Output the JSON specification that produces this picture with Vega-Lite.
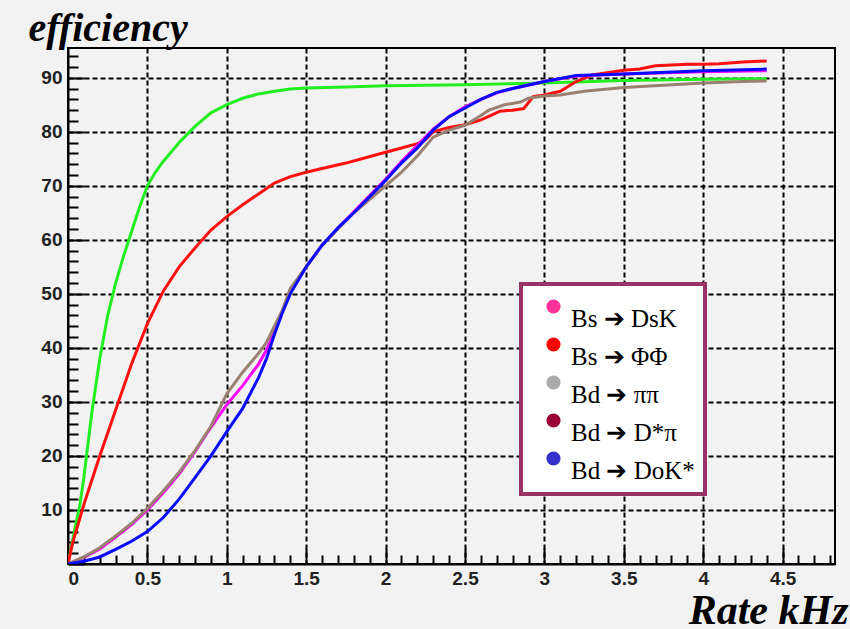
{
  "$schema": "https://vega.github.io/schema/vega-lite/v6.json",
  "width": 767,
  "height": 516,
  "autosize": {"type": "none"},
  "padding": {"left": 68, "top": 48, "right": 15, "bottom": 65},
  "background": "#f2f2f2",
  "config": {
    "view": {"stroke": "black", "strokeWidth": 2, "fill": "#f2f2f2"},
    "axis": {
      "domainColor": "black",
      "domainWidth": 2,
      "tickColor": "black",
      "tickWidth": 2,
      "gridColor": "black",
      "gridWidth": 2,
      "gridDash": [5, 3],
      "labelFont": "Liberation Sans",
      "labelFontWeight": "bold",
      "labelFontSize": 19,
      "labelColor": "#222222",
      "labelOverlap": false,
      "tickCount": 500,
      "titleFont": "Liberation Serif",
      "titleFontStyle": "italic",
      "titleFontWeight": "bold",
      "titleColor": "black"
    }
  },
  "layer": [
    {
      "data": {
        "values": [
          {"x": 0, "y": 0, "c": "A"}, {"x": 0.02, "y": 3, "c": "A"}, {"x": 0.05, "y": 7.5, "c": "A"}, {"x": 0.075, "y": 11, "c": "A"}, {"x": 0.1, "y": 16, "c": "A"}, {"x": 0.15, "y": 28, "c": "A"}, {"x": 0.2, "y": 38, "c": "A"}, {"x": 0.25, "y": 46, "c": "A"}, {"x": 0.3, "y": 52, "c": "A"}, {"x": 0.35, "y": 57, "c": "A"}, {"x": 0.4, "y": 61.5, "c": "A"}, {"x": 0.45, "y": 66, "c": "A"}, {"x": 0.5, "y": 70, "c": "A"}, {"x": 0.55, "y": 72.5, "c": "A"}, {"x": 0.6, "y": 74.5, "c": "A"}, {"x": 0.7, "y": 78, "c": "A"}, {"x": 0.8, "y": 81, "c": "A"}, {"x": 0.9, "y": 83.5, "c": "A"}, {"x": 1.0, "y": 85, "c": "A"}, {"x": 1.1, "y": 86.2, "c": "A"}, {"x": 1.2, "y": 87, "c": "A"}, {"x": 1.3, "y": 87.5, "c": "A"}, {"x": 1.4, "y": 87.9, "c": "A"}, {"x": 1.5, "y": 88.1, "c": "A"}, {"x": 1.75, "y": 88.3, "c": "A"}, {"x": 2.0, "y": 88.5, "c": "A"}, {"x": 2.5, "y": 88.7, "c": "A"}, {"x": 3.0, "y": 89, "c": "A"}, {"x": 3.5, "y": 89.5, "c": "A"}, {"x": 4.0, "y": 89.7, "c": "A"}, {"x": 4.4, "y": 89.8, "c": "A"},

          {"x": 0, "y": 0, "c": "B"}, {"x": 0.03, "y": 4, "c": "B"}, {"x": 0.1, "y": 11, "c": "B"}, {"x": 0.2, "y": 20, "c": "B"}, {"x": 0.3, "y": 28.5, "c": "B"}, {"x": 0.4, "y": 37, "c": "B"}, {"x": 0.5, "y": 44.5, "c": "B"}, {"x": 0.6, "y": 50.5, "c": "B"}, {"x": 0.7, "y": 55, "c": "B"}, {"x": 0.8, "y": 58.5, "c": "B"}, {"x": 0.9, "y": 61.8, "c": "B"}, {"x": 1.0, "y": 64.3, "c": "B"}, {"x": 1.1, "y": 66.5, "c": "B"}, {"x": 1.2, "y": 68.5, "c": "B"}, {"x": 1.3, "y": 70.5, "c": "B"}, {"x": 1.4, "y": 71.7, "c": "B"}, {"x": 1.5, "y": 72.5, "c": "B"}, {"x": 1.6, "y": 73.2, "c": "B"}, {"x": 1.75, "y": 74.2, "c": "B"}, {"x": 1.85, "y": 75, "c": "B"}, {"x": 2.0, "y": 76.2, "c": "B"}, {"x": 2.1, "y": 77, "c": "B"}, {"x": 2.2, "y": 77.8, "c": "B"}, {"x": 2.25, "y": 78.5, "c": "B"}, {"x": 2.3, "y": 80, "c": "B"}, {"x": 2.4, "y": 80.8, "c": "B"}, {"x": 2.5, "y": 81.3, "c": "B"}, {"x": 2.6, "y": 82.2, "c": "B"}, {"x": 2.66, "y": 83, "c": "B"}, {"x": 2.72, "y": 83.8, "c": "B"}, {"x": 2.8, "y": 84, "c": "B"}, {"x": 2.87, "y": 84.3, "c": "B"}, {"x": 2.93, "y": 86.5, "c": "B"}, {"x": 3.0, "y": 86.8, "c": "B"}, {"x": 3.1, "y": 87.5, "c": "B"}, {"x": 3.2, "y": 89.3, "c": "B"}, {"x": 3.3, "y": 90.5, "c": "B"}, {"x": 3.5, "y": 91.4, "c": "B"}, {"x": 3.6, "y": 91.6, "c": "B"}, {"x": 3.7, "y": 92.2, "c": "B"}, {"x": 3.9, "y": 92.5, "c": "B"}, {"x": 4.0, "y": 92.5, "c": "B"}, {"x": 4.1, "y": 92.6, "c": "B"}, {"x": 4.25, "y": 92.9, "c": "B"}, {"x": 4.4, "y": 93.1, "c": "B"},

          {"x": 0, "y": 0, "c": "C"}, {"x": 0.1, "y": 1.2, "c": "C"}, {"x": 0.2, "y": 2.8, "c": "C"}, {"x": 0.3, "y": 5, "c": "C"}, {"x": 0.4, "y": 7.3, "c": "C"}, {"x": 0.5, "y": 10, "c": "C"}, {"x": 0.6, "y": 13.2, "c": "C"}, {"x": 0.7, "y": 16.7, "c": "C"}, {"x": 0.8, "y": 20.8, "c": "C"}, {"x": 0.9, "y": 25.3, "c": "C"}, {"x": 1.0, "y": 29.5, "c": "C"}, {"x": 1.1, "y": 33, "c": "C"}, {"x": 1.2, "y": 37, "c": "C"}, {"x": 1.25, "y": 39.6, "c": "C"}, {"x": 1.3, "y": 43, "c": "C"}, {"x": 1.35, "y": 46.8, "c": "C"}, {"x": 1.4, "y": 50.5, "c": "C"}, {"x": 1.5, "y": 55, "c": "C"}, {"x": 1.6, "y": 59, "c": "C"}, {"x": 1.7, "y": 62.2, "c": "C"}, {"x": 1.8, "y": 65.2, "c": "C"}, {"x": 1.9, "y": 68.2, "c": "C"}, {"x": 2.0, "y": 71.2, "c": "C"}, {"x": 2.1, "y": 74.5, "c": "C"}, {"x": 2.2, "y": 77.5, "c": "C"}, {"x": 2.3, "y": 80.5, "c": "C"}, {"x": 2.4, "y": 82.8, "c": "C"}, {"x": 2.5, "y": 84.6, "c": "C"}, {"x": 2.6, "y": 86, "c": "C"}, {"x": 2.7, "y": 87.2, "c": "C"}, {"x": 2.8, "y": 88, "c": "C"}, {"x": 3.0, "y": 89.3, "c": "C"}, {"x": 3.2, "y": 90.3, "c": "C"}, {"x": 3.5, "y": 90.7, "c": "C"}, {"x": 4.0, "y": 91.1, "c": "C"}, {"x": 4.4, "y": 91.3, "c": "C"},

          {"x": 0, "y": 0, "c": "D"}, {"x": 0.1, "y": 1.3, "c": "D"}, {"x": 0.2, "y": 3, "c": "D"}, {"x": 0.3, "y": 5.2, "c": "D"}, {"x": 0.4, "y": 7.5, "c": "D"}, {"x": 0.5, "y": 10.3, "c": "D"}, {"x": 0.6, "y": 13.5, "c": "D"}, {"x": 0.7, "y": 17, "c": "D"}, {"x": 0.8, "y": 21, "c": "D"}, {"x": 0.9, "y": 25.5, "c": "D"}, {"x": 1.0, "y": 31.5, "c": "D"}, {"x": 1.1, "y": 35.5, "c": "D"}, {"x": 1.2, "y": 39, "c": "D"}, {"x": 1.25, "y": 41, "c": "D"}, {"x": 1.3, "y": 44, "c": "D"}, {"x": 1.35, "y": 47, "c": "D"}, {"x": 1.4, "y": 51, "c": "D"}, {"x": 1.5, "y": 55, "c": "D"}, {"x": 1.6, "y": 59, "c": "D"}, {"x": 1.7, "y": 62, "c": "D"}, {"x": 1.8, "y": 65, "c": "D"}, {"x": 1.9, "y": 67.5, "c": "D"}, {"x": 2.0, "y": 70, "c": "D"}, {"x": 2.1, "y": 72.5, "c": "D"}, {"x": 2.2, "y": 75.5, "c": "D"}, {"x": 2.3, "y": 79, "c": "D"}, {"x": 2.4, "y": 80.3, "c": "D"}, {"x": 2.5, "y": 81.2, "c": "D"}, {"x": 2.6, "y": 83, "c": "D"}, {"x": 2.65, "y": 84, "c": "D"}, {"x": 2.75, "y": 85, "c": "D"}, {"x": 2.85, "y": 85.5, "c": "D"}, {"x": 2.9, "y": 86.2, "c": "D"}, {"x": 3.0, "y": 86.6, "c": "D"}, {"x": 3.1, "y": 86.8, "c": "D"}, {"x": 3.25, "y": 87.5, "c": "D"}, {"x": 3.5, "y": 88.2, "c": "D"}, {"x": 3.75, "y": 88.6, "c": "D"}, {"x": 4.0, "y": 89, "c": "D"}, {"x": 4.25, "y": 89.3, "c": "D"}, {"x": 4.4, "y": 89.4, "c": "D"},

          {"x": 0, "y": 0, "c": "E"}, {"x": 0.1, "y": 0.5, "c": "E"}, {"x": 0.2, "y": 1.3, "c": "E"}, {"x": 0.3, "y": 2.7, "c": "E"}, {"x": 0.4, "y": 4.2, "c": "E"}, {"x": 0.5, "y": 6, "c": "E"}, {"x": 0.6, "y": 8.6, "c": "E"}, {"x": 0.7, "y": 12, "c": "E"}, {"x": 0.8, "y": 16, "c": "E"}, {"x": 0.9, "y": 20, "c": "E"}, {"x": 1.0, "y": 24.5, "c": "E"}, {"x": 1.1, "y": 28.8, "c": "E"}, {"x": 1.2, "y": 34.5, "c": "E"}, {"x": 1.25, "y": 38, "c": "E"}, {"x": 1.3, "y": 42.5, "c": "E"}, {"x": 1.35, "y": 46.5, "c": "E"}, {"x": 1.4, "y": 50, "c": "E"}, {"x": 1.5, "y": 55, "c": "E"}, {"x": 1.6, "y": 59, "c": "E"}, {"x": 1.7, "y": 62.2, "c": "E"}, {"x": 1.8, "y": 65, "c": "E"}, {"x": 1.9, "y": 68, "c": "E"}, {"x": 2.0, "y": 71, "c": "E"}, {"x": 2.1, "y": 74.2, "c": "E"}, {"x": 2.2, "y": 77, "c": "E"}, {"x": 2.3, "y": 80.3, "c": "E"}, {"x": 2.4, "y": 82.8, "c": "E"}, {"x": 2.5, "y": 84.4, "c": "E"}, {"x": 2.6, "y": 86, "c": "E"}, {"x": 2.7, "y": 87.3, "c": "E"}, {"x": 2.8, "y": 88, "c": "E"}, {"x": 3.0, "y": 89.3, "c": "E"}, {"x": 3.2, "y": 90.4, "c": "E"}, {"x": 3.5, "y": 90.7, "c": "E"}, {"x": 4.0, "y": 91.3, "c": "E"}, {"x": 4.4, "y": 91.6, "c": "E"}
        ]
      },
      "mark": {"type": "line", "strokeWidth": 3, "clip": true},
      "encoding": {
        "x": {
          "field": "x",
          "type": "quantitative",
          "scale": {"domain": [0, 4.83], "nice": false, "zero": false},
          "axis": {
            "title": "Rate kHz",
            "titleFontSize": 42,
            "titleAlign": "right",
            "titleBaseline": "alphabetic",
            "titleAnchor": null,
            "titleX": 780,
            "titleY": 59,
            "tickCount": 500,
            "values": [0, 0.1, 0.2, 0.3, 0.4, 0.5, 0.6, 0.7, 0.8, 0.9, 1, 1.1, 1.2, 1.3, 1.4, 1.5, 1.6, 1.7, 1.8, 1.9, 2, 2.1, 2.2, 2.3, 2.4, 2.5, 2.6, 2.7, 2.8, 2.9, 3, 3.1, 3.2, 3.3, 3.4, 3.5, 3.6, 3.7, 3.8, 3.9, 4, 4.1, 4.2, 4.3, 4.4, 4.5, 4.6, 4.7, 4.8],
            "labelExpr": "abs(datum.value * 2 - round(datum.value * 2)) < 0.001 ? format(datum.value, '~g') : ''",
            "tickSize": {"condition": {"test": "abs(datum.value * 2 - round(datum.value * 2)) < 0.001", "value": -16}, "value": -9},
            "gridOpacity": {"condition": {"test": "abs(datum.value * 2 - round(datum.value * 2)) < 0.001 && datum.value > 0", "value": 1}, "value": 0},
            "labelPadding": 21
          }
        },
        "y": {
          "field": "y",
          "type": "quantitative",
          "scale": {"domain": [0, 95.5], "nice": false},
          "axis": {
            "title": "efficiency",
            "titleFontSize": 40,
            "titleAngle": 0,
            "titleAlign": "left",
            "titleBaseline": "alphabetic",
            "titleAnchor": null,
            "titleX": -40,
            "titleY": -8,
            "tickCount": 500,
            "values": [0, 2, 4, 6, 8, 10, 12, 14, 16, 18, 20, 22, 24, 26, 28, 30, 32, 34, 36, 38, 40, 42, 44, 46, 48, 50, 52, 54, 56, 58, 60, 62, 64, 66, 68, 70, 72, 74, 76, 78, 80, 82, 84, 86, 88, 90, 92, 94],
            "labelExpr": "datum.value % 10 === 0 && datum.value > 0 ? '' + datum.value : ''",
            "tickSize": {"condition": {"test": "datum.value % 10 === 0", "value": -16}, "value": -10},
            "gridOpacity": {"condition": {"test": "datum.value % 10 === 0 && datum.value > 0", "value": 1}, "value": 0},
            "labelPadding": 22
          }
        },
        "color": {
          "field": "c",
          "type": "nominal",
          "scale": {"domain": ["A", "B", "C", "D", "E"], "range": ["#22ee22", "#ff1010", "#ff00ff", "#9a8070", "#0a0aff"]},
          "legend": null
        }
      }
    },
    {
      "data": {
        "values": [
          {"decay": "Bs ➔ DsK"},
          {"decay": "Bs ➔ ΦΦ"},
          {"decay": "Bd ➔ ππ"},
          {"decay": "Bd ➔ D*π"},
          {"decay": "Bd ➔ DoK*"}
        ]
      },
      "mark": {"type": "point", "filled": true, "shape": "circle", "opacity": 1},
      "encoding": {
        "x": {"field": "px", "type": "quantitative"},
        "y": {"field": "py", "type": "quantitative"},
        "fill": {
          "field": "decay",
          "type": "nominal",
          "scale": {
            "domain": ["Bs ➔ DsK", "Bs ➔ ΦΦ", "Bd ➔ ππ", "Bd ➔ D*π", "Bd ➔ DoK*"],
            "range": ["#ff3399", "#ff0000", "#aaaaaa", "#990033", "#3333cc"]
          },
          "legend": {
            "orient": "none",
            "legendX": 453,
            "legendY": 236,
            "title": null,
            "fillColor": "white",
            "strokeColor": "#993366",
            "padding": 10,
            "symbolOffset": 10,
            "symbolSize": 200,
            "symbolType": "circle",
            "symbolStrokeWidth": 0,
            "symbolOpacity": 1,
            "labelFont": "Liberation Serif",
            "labelFontSize": 25,
            "labelColor": "black",
            "labelBaseline": "top",
            "labelOffset": 5,
            "labelLimit": 300,
            "rowPadding": -6,
            "encode": {
              "legend": {"update": {"strokeWidth": {"value": 4}}}
            }
          }
        }
      }
    }
  ]
}
